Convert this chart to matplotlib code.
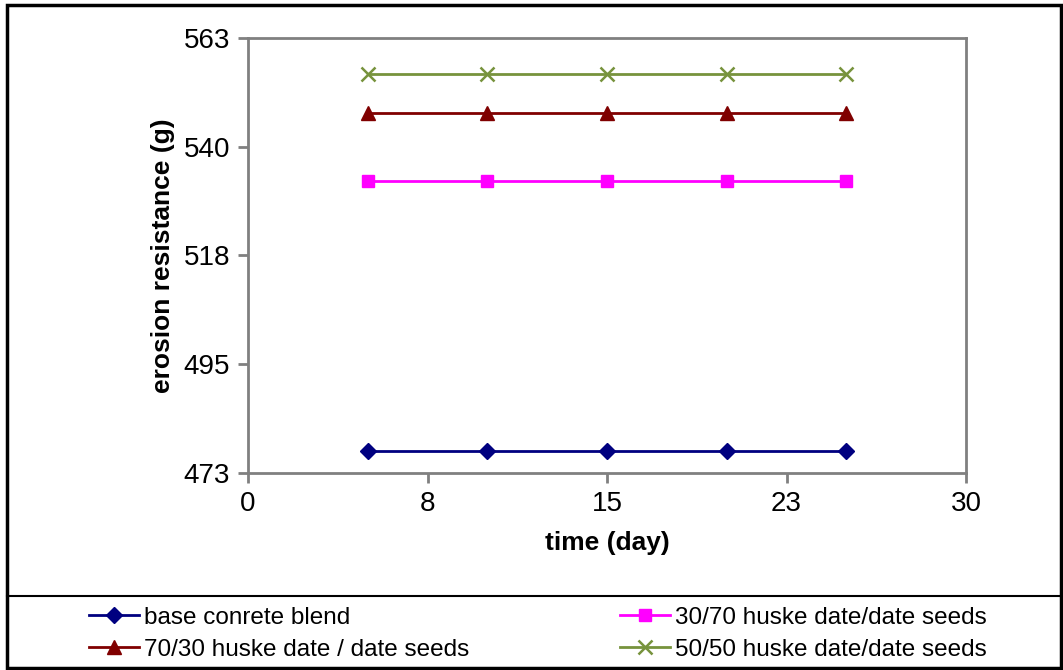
import matplotlib.pyplot as plt
from matplotlib.lines import Line2D
from matplotlib.patches import Rectangle

plt.rcParams['font.family'] = ['Liberation Sans', 'DejaVu Sans']

# measurement days and erosion resistance of each blend
days = [5, 10, 15, 20, 25]
base_blend = [477, 477, 477, 477, 477]
blend_30_70 = [533, 533, 533, 533, 533]
blend_70_30 = [547, 547, 547, 547, 547]
blend_50_50 = [555, 555, 555, 555, 555]

x_ticks = [0, 7.5, 15, 22.5, 30]
x_tick_labels = ['0', '8', '15', '23', '30']
y_ticks = [472.5, 495, 517.5, 540, 562.5]
y_tick_labels = ['473', '495', '518', '540', '563']

fig = plt.figure(figsize=(10.63, 6.70), dpi=100)
ax = fig.add_axes([248 / 1063, 1 - 473 / 670, 718 / 1063, 435 / 670])

l1, = ax.plot(days, base_blend, color='#000080', lw=2, marker='D', ms=8,
              label='base conrete blend')
l2, = ax.plot(days, blend_30_70, color='#FF00FF', lw=2, marker='s', ms=9,
              label='30/70 huske date/date seeds')
l3, = ax.plot(days, blend_70_30, color='#800000', lw=2, marker='^', ms=10,
              label='70/30 huske date / date seeds')
l4, = ax.plot(days, blend_50_50, color='#77933C', lw=2, marker='x', ms=10, mew=1.8,
              label='50/50 huske date/date seeds')

ax.set_xlim(0, 30)
ax.set_ylim(472.5, 562.5)
ax.set_xticks(x_ticks)
ax.set_xticklabels(x_tick_labels)
ax.set_yticks(y_ticks)
ax.set_yticklabels(y_tick_labels)
ax.tick_params(direction='out', length=7, width=2, color='#808080',
               labelsize=20, pad=6)
for sp in ax.spines.values():
    sp.set_color('#808080')
    sp.set_linewidth(2)

ax.set_xlabel('time (day)', fontsize=19, fontweight='bold', labelpad=10)
ax.set_ylabel('erosion resistance (g)', fontsize=19, fontweight='bold', labelpad=6)

# outer chart border and the legend box beneath it
fig.patches.append(Rectangle((7 / 1063, 2 / 670), 1054 / 1063, 663 / 670,
                             transform=fig.transFigure, fill=False,
                             edgecolor='black', lw=2.5))
fig.add_artist(Line2D([7 / 1063, 1061 / 1063], [1 - 596 / 670, 1 - 596 / 670],
                      transform=fig.transFigure, color='black', lw=1.5))

fig.legend([l1, l3, l2, l4], [l1.get_label(), l3.get_label(), l2.get_label(), l4.get_label()],
           ncol=2, loc='upper left', bbox_to_anchor=(79 / 1063, 1 - 597 / 670),
           frameon=False, fontsize=17.5, handlelength=2.06, handletextpad=0.2,
           columnspacing=6.2, labelspacing=0.42, borderaxespad=0)

fig.savefig('out.png', dpi=100)
